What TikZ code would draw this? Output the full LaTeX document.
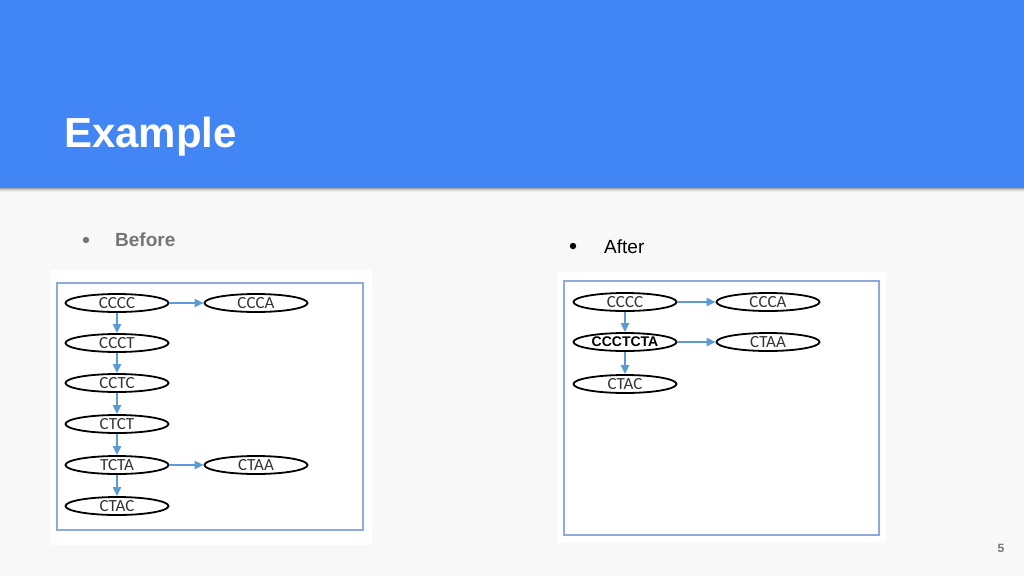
\documentclass[tikz,border=0pt]{standalone}
\usepackage{fontspec}
\setmainfont{Liberation Sans}
\newfontfamily\carlito{Carlito}
\usetikzlibrary{shapes.geometric,arrows.meta}
\definecolor{headblue}{HTML}{4285F4}
\definecolor{pagegray}{HTML}{F8F8F8}
\definecolor{framblue}{HTML}{8EAADB}
\definecolor{linkblue}{HTML}{5B9BD5}
\definecolor{textgray}{HTML}{757575}
\begin{document}
\begin{tikzpicture}[x=1pt,y=-1pt,
  state/.style={ellipse, draw, line width=1.8pt, minimum width=103pt, minimum height=18pt, inner sep=0pt, text=black!80, font=\carlito\fontsize{17}{17}\selectfont},
  link/.style={draw=linkblue, line width=2pt, -{Triangle[length=9pt,width=8pt]}}]
\useasboundingbox (0,0) rectangle (1024,576);
% page and header
\fill[pagegray] (0,0) rectangle (1024,576);
\foreach \s/\o in {0/0.35,1/0.2,2/0.1,3/0.05}
	{\fill[black, opacity=\o] (0,188+\s) rectangle (1024,189+\s);}
\fill[headblue] (0,0) rectangle (1024,188);
\node[anchor=base west, text=white, font=\bfseries\fontsize{42}{48}\selectfont, inner sep=0pt] (title) at (64,147) {Example};
% bullets
\fill[textgray] (86,240) circle (3.2pt);
\node[anchor=base west, text=textgray, font=\bfseries\fontsize{19}{22}\selectfont, inner sep=0pt] (before) at (115,246) {Before};
\fill[black] (573,246) circle (3.2pt);
\node[anchor=base west, font=\fontsize{19}{22}\selectfont, inner sep=0pt] (after) at (604,253) {After};
% panels
\fill[white] (50,270) rectangle (372,545);
\draw[framblue, line width=1.2pt] (57,283) rectangle (363,530);
\fill[white] (557,272) rectangle (886,543);
\draw[framblue, line width=1.2pt] (564,281) rectangle (879,535);
% before graph
\foreach \name/\lab/\y in {ba/CCCC/303, bb/CCCT/343, bc/CCTC/383, bd/CTCT/424, be/TCTA/465, bf/CTAC/506}
	{\node[state] (\name) at (117,\y) {\lab};}
\node[state] (bg) at (256,303) {CCCA};
\node[state] (bh) at (256,465) {CTAA};
\foreach \u/\v in {ba/bb, bb/bc, bc/bd, bd/be, be/bf, ba/bg, be/bh}
	{\draw[link] (\u) -- (\v);}
% after graph
\node[state] (aa) at (625,302) {CCCC};
\node[state, text=black, font=\bfseries\fontsize{14}{14}\selectfont] (ab) at (625,342) {CCCTCTA};
\node[state] (ac) at (625,384) {CTAC};
\node[state] (ad) at (768,302) {CCCA};
\node[state] (ae) at (768,342) {CTAA};
\foreach \u/\v in {aa/ab, ab/ac, aa/ad, ab/ae}
	{\draw[link] (\u) -- (\v);}
% page number
\node[text=textgray, font=\bfseries\fontsize{12}{14}\selectfont] (pagenum) at (1001,548) {5};
\end{tikzpicture}
\end{document}
